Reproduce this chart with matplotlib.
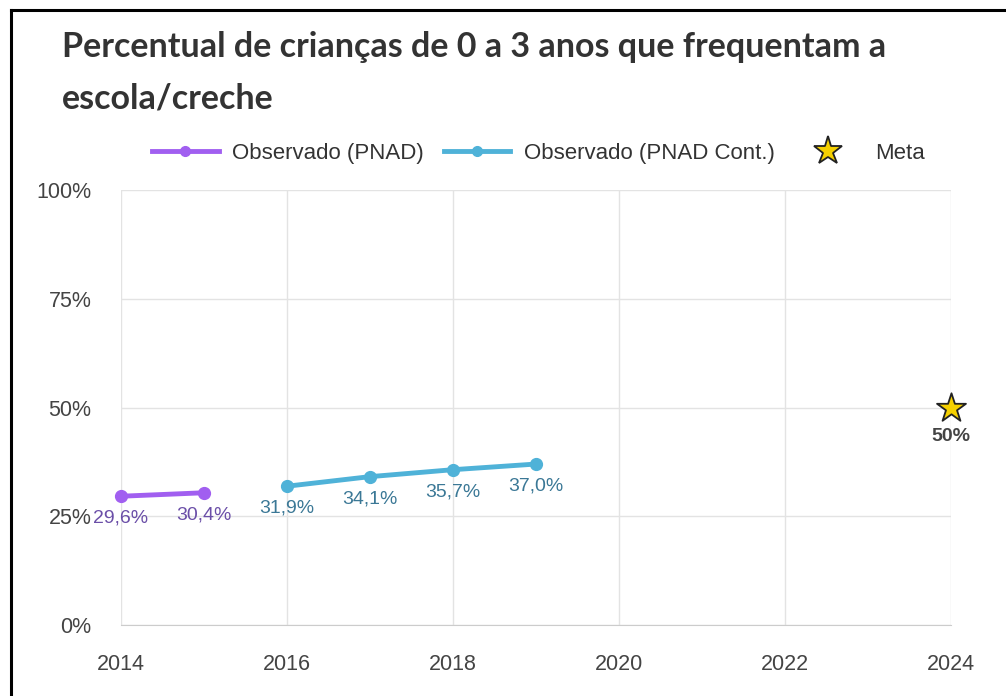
import matplotlib
matplotlib.use("Agg")
import matplotlib.pyplot as plt
from matplotlib.lines import Line2D

years_pnad = [2014, 2015]
vals_pnad = [29.6, 30.4]
years_cont = [2016, 2017, 2018, 2019]
vals_cont = [31.9, 34.1, 35.7, 37.0]
meta_year = [2024]
meta_val = [50]
x_ticks = [2014, 2016, 2018, 2020, 2022, 2024]
y_ticks = [0, 25, 50, 75, 100]
title = "Percentual de crianças de 0 a 3 anos que frequentam a\nescola/creche"

purple = "#a15ff0"
blue = "#4fb2d8"
purple_lbl = "#6b4fa8"
blue_lbl = "#3b7896"

plt.rcParams['font.family'] = ['Liberation Sans', 'DejaVu Sans']
fig = plt.figure(figsize=(10.06, 6.96), dpi=100)
ax = fig.add_axes([0.12, 0.102, 0.825, 0.625])

ax.plot(years_pnad, vals_pnad, color=purple, lw=3.5, marker='o', ms=8.5, zorder=3, clip_on=False)
ax.plot(years_cont, vals_cont, color=blue, lw=3.5, marker='o', ms=8.5, zorder=3, clip_on=False)
ax.scatter(meta_year, meta_val, marker='*', s=480, color='#f5d000', edgecolor='#222222', linewidth=1.3,
           zorder=4, clip_on=False)

def fmt(v):
    return f"{v:.1f}%".replace('.', ',')

for x, y in zip(years_pnad, vals_pnad):
    ax.annotate(fmt(y), (x, y), xytext=(0, -16), textcoords='offset points', ha='center', va='center',
                fontsize=14, color=purple_lbl)
for x, y in zip(years_cont, vals_cont):
    ax.annotate(fmt(y), (x, y), xytext=(0, -16), textcoords='offset points', ha='center', va='center',
                fontsize=14, color=blue_lbl)
for x, y in zip(meta_year, meta_val):
    ax.annotate(f"{y:d}%", (x, y), xytext=(0, -21), textcoords='offset points', ha='center', va='center',
                fontsize=14, color='#444444', fontweight='bold')

ax.set_xlim(2014, 2024)
ax.set_ylim(0, 100)
ax.set_xticks(x_ticks)
ax.set_yticks(y_ticks)
ax.set_yticklabels([f"{t}%" for t in y_ticks])
ax.grid(True, color='#e3e3e3', lw=1)
ax.set_axisbelow(True)
for s in ['top', 'right', 'left']:
    ax.spines[s].set_visible(False)
ax.spines['bottom'].set_color('#cccccc')
ax.tick_params(axis='both', length=0, labelsize=15.5, colors='#444444')
ax.tick_params(axis='x', pad=21)
ax.tick_params(axis='y', pad=21)
for lbl in ax.get_xticklabels() + ax.get_yticklabels():
    lbl.set_color('#444444')

fig.text(0.062, 0.955, title, fontsize=24.5, fontweight='bold', family=['Lato', 'DejaVu Sans'],
         color='#333333', va='top', ha='left', linespacing=1.75)

handles = [
    Line2D([], [], color=purple, lw=3.5, marker='o', ms=7),
    Line2D([], [], color=blue, lw=3.5, marker='o', ms=7),
    Line2D([], [], color='#f5d000', marker='*', ms=21, markeredgecolor='#222222', markeredgewidth=1.3, lw=0),
]
leg = fig.legend(handles, ["Observado (PNAD)", "Observado (PNAD Cont.)", "Meta"], loc='center',
                 bbox_to_anchor=(0.535, 0.78), ncol=3, frameon=False, fontsize=16,
                 handlelength=3.0, columnspacing=0.9, handletextpad=0.6)
for t in leg.get_texts():
    t.set_color('#333333')

# screenshot frame lines
fig.add_artist(Line2D([0.011, 0.011], [0, 0.986], color='black', lw=2.2, transform=fig.transFigure))
fig.add_artist(Line2D([0.011, 1.0], [0.986, 0.986], color='black', lw=2.2, transform=fig.transFigure))

fig.savefig("out.png", dpi=100)
